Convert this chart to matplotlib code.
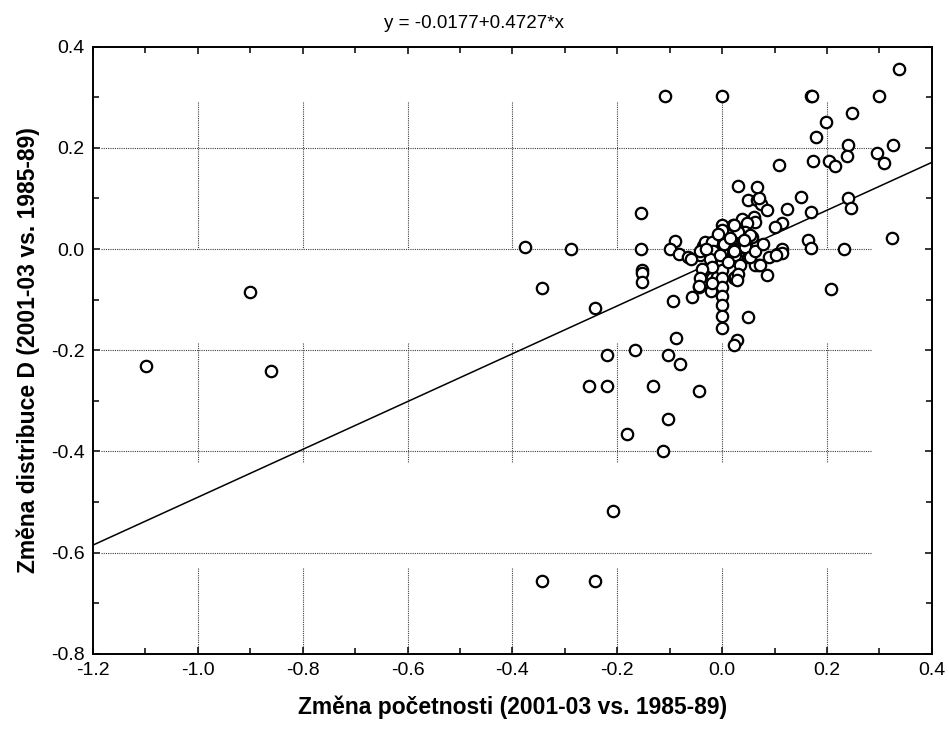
import numpy as np
import matplotlib
matplotlib.use("Agg")
import matplotlib.pyplot as plt
from matplotlib.ticker import MultipleLocator, FormatStrFormatter

plt.rcParams['font.family'] = ['Liberation Sans', 'DejaVu Sans']

# Data
x_vals = [
    -1.099, -0.901, -0.861, -0.376, -0.288, -0.344, -0.242,
    -0.220, -0.166, -0.254, -0.220, -0.132, -0.044, -0.104, -0.080, -0.088, -0.093,
    -0.058, -0.044, -0.021, -0.153, -0.153, -0.153, -0.155, -0.155,
    -0.090, -0.099, -0.083, -0.066, -0.043, -0.036, -0.033,
    -0.344, -0.242, -0.208, -0.181, -0.113, -0.103, -0.109, 0.000,
    -0.023, -0.017, -0.020, -0.036, -0.020, -0.010,
    0.000, 0.000, 0.000, 0.000, 0.000, 0.000, 0.000, 0.000, 0.000, 0.000, 0.000, 0.000, 0.000, 0.000,
    0.003, 0.022, 0.025, 0.034, 0.022, 0.050, 0.041, 0.060, 0.066, 0.069, 0.085, 0.050, 0.028, 0.022,
    0.104, 0.114, 0.114,
    0.020, 0.034, 0.057, 0.038, 0.060, 0.063, 0.047, 0.050, 0.067, 0.074, 0.071, 0.030, 0.066, 0.044,
    0.038, 0.044, 0.022, 0.031, 0.053, 0.022,
    -0.020, -0.017, -0.042, -0.023, -0.004, 0.063, -0.020, -0.039,
    -0.042, 0.025, 0.031, -0.045, -0.020, 0.028,
    0.053, 0.063, 0.041, 0.073,
    -0.060, -0.030, 0.012, 0.015, -0.008, 0.078, 0.090,
    0.338, 0.169, 0.172, 0.300, 0.248, 0.198, 0.179, 0.240, 0.325, 0.295, 0.238, 0.308, 0.204,
    0.216, 0.173, 0.109, 0.151, 0.240, 0.246, 0.123, 0.086, 0.169, 0.115, 0.101, 0.164, 0.170,
    0.232, 0.324, 0.208, 0.103,
]
y_vals = [
    -0.232, -0.084, -0.240, 0.005, 0.001, -0.076, -0.116,
    -0.210, -0.199, -0.271, -0.271, -0.271, -0.281, -0.210, -0.227, -0.176, -0.102,
    -0.095, -0.075, -0.082, -0.042, -0.047, -0.065, 0.072, 0.001,
    0.016, 0.001, -0.009, -0.016, -0.012, 0.007, 0.013,
    -0.655, -0.655, -0.518, -0.365, -0.400, -0.335, 0.303, 0.303,
    -0.009, -0.022, -0.032, -0.062, -0.058, -0.055,
    0.047, 0.038, 0.014, 0.007, 0.001, -0.006, -0.026, -0.042, -0.058, -0.075, -0.092, -0.111, -0.133, -0.155,
    0.011, 0.001, -0.012, -0.032, -0.058, -0.016, 0.004, 0.004, 0.009, -0.032, -0.052, -0.134, -0.180, -0.189,
    -0.009, 0.001, -0.008,
    0.047, 0.034, 0.024, 0.060, 0.063, 0.053, 0.051, 0.096, 0.096, 0.090, 0.100, 0.124, 0.123, 0.034,
    0.017, 0.004, -0.003, 0.034, 0.027, 0.047,
    0.014, -0.003, -0.003, -0.019, -0.012, -0.032, -0.036, -0.039,
    -0.058, -0.055, -0.049, -0.072, -0.068, -0.062,
    -0.016, -0.003, 0.017, -0.032,
    -0.020, 0.000, -0.025, 0.022, 0.030, 0.010, -0.015,
    0.355, 0.302, 0.302, 0.302, 0.268, 0.251, 0.221, 0.206, 0.206, 0.190, 0.184, 0.171, 0.174,
    0.164, 0.174, 0.167, 0.103, 0.101, 0.082, 0.080, 0.078, 0.073, 0.052, 0.044, 0.017, 0.002,
    0.001, 0.021, -0.078, -0.011,
]

# regression from the chart title
b0 = -0.0177
b1 = 0.4727

fig = plt.figure(figsize=(9.49, 7.29), dpi=100)
ax = fig.add_axes([0.098, 0.103, 0.884, 0.833])

ax.set_xlim(-1.2, 0.4)
ax.set_ylim(-0.8, 0.4)

# broken dotted grid like in the original
for gy in [0.2, 0.0, -0.2, -0.4, -0.6]:
    ax.plot([-1.185, 0.285], [gy, gy], color='0.25', ls=(0, (1, 1)), lw=0.8, zorder=1)
for gx in [-1.0, -0.8, -0.6, -0.4, -0.2, 0.0, 0.2]:
    for y0, y1 in [(0.29, 0.0), (-0.185, -0.42), (-0.63, -0.8)]:
        ax.plot([gx, gx], [y0, y1], color='0.25', ls=(0, (1, 1)), lw=0.8, zorder=1)

xl = np.array([-1.2, 0.4])
ax.plot(xl, b0 + b1 * xl, color='black', lw=1.1, zorder=2)

ax.plot(x_vals, y_vals, 'o', mfc='white', mec='black', ms=8.2, mew=1.6, zorder=3)

ax.xaxis.set_major_locator(MultipleLocator(0.2))
ax.xaxis.set_minor_locator(MultipleLocator(0.1))
ax.yaxis.set_major_locator(MultipleLocator(0.2))
ax.yaxis.set_minor_locator(MultipleLocator(0.1))
ax.xaxis.set_major_formatter(FormatStrFormatter('%.1f'))
ax.yaxis.set_major_formatter(FormatStrFormatter('%.1f'))
ax.tick_params(which='both', direction='in', top=True, right=True, labelsize=14, width=1.1)
ax.tick_params(which='major', length=5, pad=6)
ax.tick_params(which='minor', length=4)
for s in ax.spines.values():
    s.set_linewidth(1.4)

ax.set_xlabel('Změna početnosti (2001-03 vs. 1985-89)', fontsize=16.5, fontweight='bold', labelpad=12)
ax.set_ylabel('Změna distribuce D (2001-03 vs. 1985-89)', fontsize=16.5, fontweight='bold', labelpad=8)
fig.text(0.5, 0.968, 'y = -0.0177+0.4727*x', ha='center', va='center', fontsize=13.5)

fig.savefig('out.png', dpi=100)
